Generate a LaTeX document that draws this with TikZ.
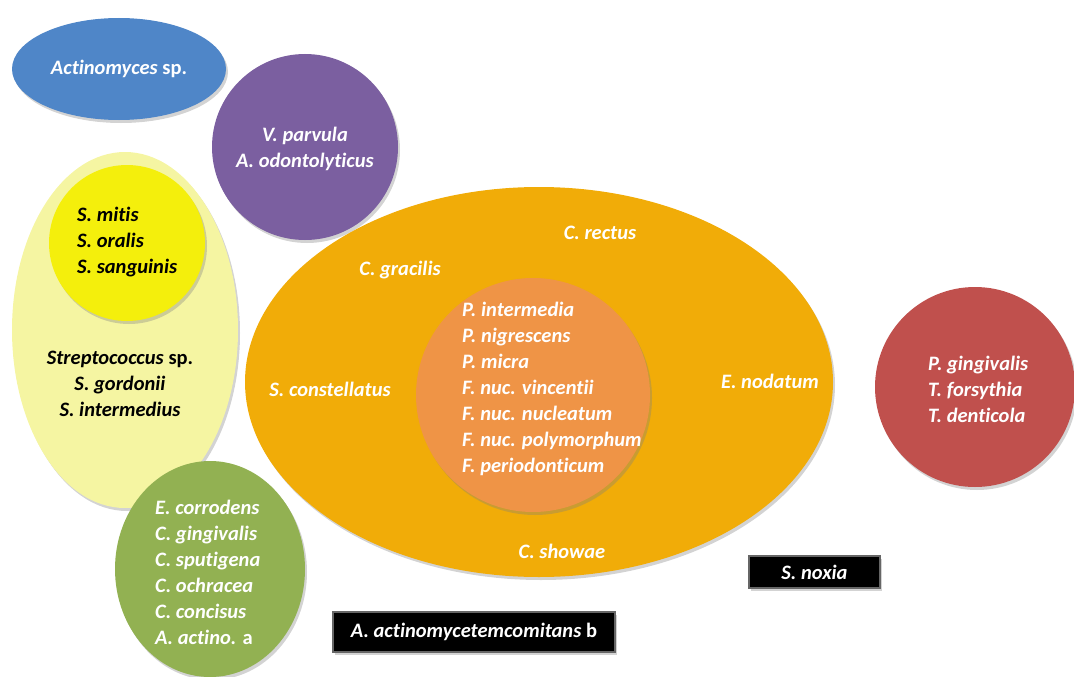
\documentclass[tikz,border=0pt]{standalone}
\usepackage{fontspec}
\setmainfont[Ligatures={NoCommon}]{Carlito}
\usetikzlibrary{shapes.geometric,shadows}
\definecolor{cblue}{HTML}{4F86C8}
\definecolor{cpurple}{HTML}{7B5FA0}
\definecolor{cpale}{HTML}{F5F5A2}
\definecolor{cyel}{HTML}{F4EF0C}
\definecolor{corange}{HTML}{F1AC08}
\definecolor{cinner}{HTML}{EF9446}
\definecolor{cred}{HTML}{C0504D}
\definecolor{cgreen}{HTML}{92B152}
\tikzset{
  blob/.style={draw=none, inner sep=0pt, drop shadow={opacity=0.35, shadow xshift=2pt, shadow yshift=-3pt}},
  ell/.style={blob, ellipse},
  circ/.style={blob, circle},
  lbl/.style={font=\fontsize{20.5}{26}\selectfont\bfseries\itshape, inner sep=0pt, text=white},
  lblk/.style={lbl, text=black},
  blackbox/.style={fill=black, draw=black!60, line width=1.2pt, inner sep=0pt, drop shadow={opacity=0.35, shadow xshift=2pt, shadow yshift=-3pt}},
}
\begin{document}
\begin{tikzpicture}[x=1pt,y=-1pt]
\useasboundingbox (0,0) rectangle (1074,677);
% shapes
\node[ell, fill=cblue, minimum width=214pt, minimum height=102pt] (blue) at (119,69) {};
\node[circ, fill=cpurple, minimum size=186pt] (purple) at (305,147) {};
\node[ell, fill=cpale, minimum width=226pt, minimum height=356pt] (pale) at (125,330) {};
\node[circ, fill=cyel, minimum size=156pt] (yel) at (127,243) {};
\node[ell, fill=corange, minimum width=588pt, minimum height=390pt] (big) at (539,382) {};
\node[circ, fill=cinner, minimum size=234pt] (inner) at (533,395) {};
\node[circ, fill=cred, minimum size=200pt] (red) at (975,387) {};
\node[ell, fill=cgreen, minimum width=190pt, minimum height=216pt] (green) at (210,569) {};
\node[blackbox, minimum width=282pt, minimum height=40pt] (aa) at (474,632) {};
\node[blackbox, minimum width=131pt, minimum height=32pt] (sn) at (814.5,572) {};
% labels
\node[lbl] (tblue) at (blue.center) {Actinomyces \textup{sp.}};
\node[lbl, align=center] (tpurple) at (305,149) {V. parvula\\A. odontolyticus};
\node[lblk, align=left, anchor=west] (tyel) at (77,242) {S. mitis\\S. oralis\\S. sanguinis};
\node[lblk, align=center] (tpale) at (120,384) {Streptococcus \textup{sp.}\\S. gordonii\\S. intermedius};
\node[lbl] (crectus) at (600,233) {C. rectus};
\node[lbl] (cgracilis) at (400,270) {C. gracilis};
\node[lbl] (sconst) at (330,389) {S. constellatus};
\node[lbl] (enod) at (770,381) {E. nodatum};
\node[lbl] (cshow) at (562,551) {C. showae};
\node[lbl, align=left, anchor=west] (tinner) at (462,389) {P. intermedia\\P. nigrescens\\P. micra\\F. nuc. vincentii\\F. nuc. nucleatum\\F. nuc. polymorphum\\F. periodonticum};
\node[lbl, align=left, anchor=west] (tred) at (928,389) {P. gingivalis\\T. forsythia\\T. denticola};
\node[lbl, align=left, anchor=west] (tgreen) at (155,572) {E. corrodens\\C. gingivalis\\C. sputigena\\C. ochracea\\C. concisus\\A. actino. \textup{a}};
\node[lbl] (taa) at (aa.center) {A. actinomycetemcomitans \textup{b}};
\node[lbl] (tsn) at (sn.center) {S. noxia};
\end{tikzpicture}
\end{document}
